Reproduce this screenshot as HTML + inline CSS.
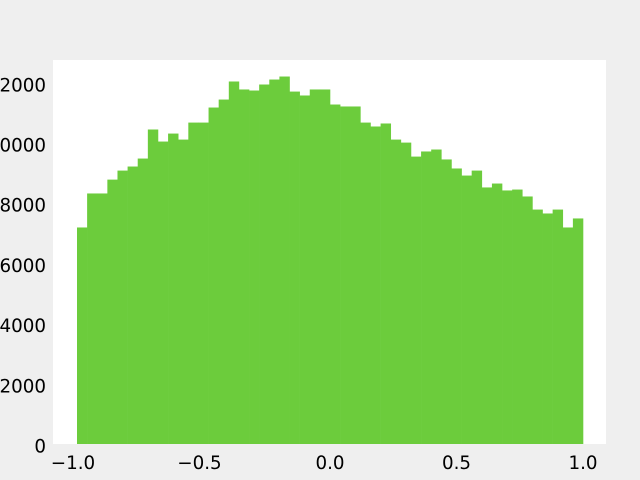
<!DOCTYPE html>
<html><head><meta charset="utf-8"><style>
html,body{margin:0;padding:0;background:#efefef;width:640px;height:480px;overflow:hidden}
svg text{font-family:"DejaVu Sans","Liberation Sans",sans-serif;font-size:18.3px;fill:#000}
</style></head><body>
<svg id="chart" width="640" height="480" viewBox="0 0 640 480">
<rect x="0" y="0" width="640" height="480" fill="#efefef"/>
<rect x="53" y="60" width="553" height="384" fill="#ffffff"/>
<g id="bars"></g>
<g id="xticks"></g>
<g id="yticks"></g>
<text x="333" y="493" text-anchor="middle">x</text>
</svg>
<script>
const binStart = -1.0;
const binWidth = 0.04;
const counts = [7210,8340,8340,8800,9100,9235,9500,10465,10065,10330,10130,10695,10695,11195,11460,12060,11795,11760,11960,12125,12225,11725,11595,11795,11795,11295,11230,11230,10695,10565,10665,10130,10030,9565,9735,9800,9470,9170,8935,9100,8540,8670,8440,8470,8240,7805,7675,7805,7210,7510];
const xTicks = [-1.0,-0.5,0.0,0.5,1.0];
const xTickLabels = ["\u22121.0","\u22120.5","0.0","0.5","1.0"];
const yTicks = [0,2000,4000,6000,8000,10000,12000];
const yTickLabels = ["0","2000","4000","6000","8000","10000","12000"];

const NS="http://www.w3.org/2000/svg";
function xs(v){return 77+(v+1)*253;}
function ys(v){return 444.5-v*0.0301;}
const bars=document.getElementById('bars');
counts.forEach((c,i)=>{
  const x0=xs(binStart+i*binWidth), x1=xs(binStart+(i+1)*binWidth);
  const r=document.createElementNS(NS,'rect');
  r.setAttribute('x',x0);r.setAttribute('y',ys(c));
  r.setAttribute('width',x1-x0+0.3);r.setAttribute('height',444-ys(c));
  r.setAttribute('fill','#6ccc3c');
  
  
  bars.appendChild(r);
});
const xg=document.getElementById('xticks');
xTicks.forEach((t,i)=>{
  const tx=document.createElementNS(NS,'text');
  tx.setAttribute('x',xs(t)-(t<0?4:0));tx.setAttribute('y',469);
  tx.setAttribute('text-anchor','middle');tx.textContent=xTickLabels[i];
  
  
  xg.appendChild(tx);
});
const yg=document.getElementById('yticks');
yTicks.forEach((t,i)=>{
  const tx=document.createElementNS(NS,'text');
  tx.setAttribute('x',46);tx.setAttribute('y',ys(t)+8);
  tx.setAttribute('text-anchor','end');tx.textContent=yTickLabels[i];
  
  
  yg.appendChild(tx);
});
</script>
</body></html>
